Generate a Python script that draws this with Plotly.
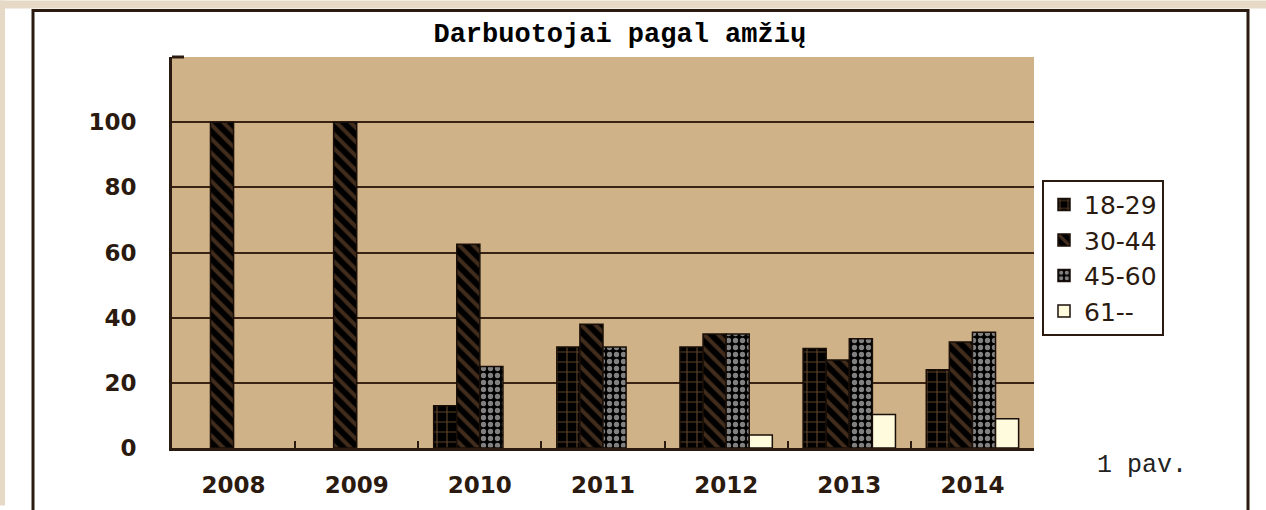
import plotly.graph_objects as go

metai = ["2008", "2009", "2010", "2011", "2012", "2013", "2014"]
grupes = ["18-29", "30-44", "45-60", "61--"]
v_18_29 = [None, None, 13, 31, 31, 30.5, 24]
v_30_44 = [100, 100, 62.5, 38, 35, 27, 32.5]
v_45_60 = [None, None, 25, 31, 35, 33.5, 35.5]
v_61 = [None, None, None, None, 4, 10.3, 9]
y_ticks = [0, 20, 40, 60, 80, 100]

# pikseliai -> paper koordinatės (plotas 172..1034 x 57..452)
W, H = 1266, 510
L, R, T, B = 172, 1034, 57, 452
def px(x):
    return (x - L) / (R - L)
def py(y):
    return (B - y) / (B - T)

ruda = "#2b1a0f"

stiliai = [
    dict(color="black", pattern=dict(shape="+", fgcolor="#b8824f", size=10, solidity=0.22, fillmode="overlay")),
    dict(color="black", pattern=dict(shape="\\", fgcolor="#84593a", size=10, solidity=0.4, fillmode="overlay")),
    dict(color="black", pattern=dict(shape=".", fgcolor="white", size=7, solidity=0.45, fillmode="overlay")),
    dict(color="#fffbdc"),
]
reiksmes = [v_18_29, v_30_44, v_45_60, v_61]

fig = go.Figure()
for g, v, s in zip(grupes, reiksmes, stiliai):
    fig.add_trace(go.Bar(x=metai, y=v, name=g,
                         marker=dict(**s, line=dict(color="#1a0f08", width=1.5))))

fig.update_layout(
    width=W, height=H,
    margin=dict(l=L, r=W - R, t=T, b=H - B),
    paper_bgcolor="white",
    plot_bgcolor="#cfb287",
    barmode="group", bargap=0.25, bargroupgap=0,
    font=dict(family="DejaVu Sans", color=ruda),
    showlegend=True,
    legend=dict(x=px(1042), y=py(181), xanchor="left", yanchor="top",
                bgcolor="white", bordercolor=ruda, borderwidth=2,
                font=dict(family="DejaVu Sans", size=25, color=ruda),
                itemwidth=30, tracegroupgap=0),
    title=dict(text="<b>Darbuotojai pagal amžių</b>", x=px(594), xanchor="center",
               y=1 - 33 / H, yanchor="middle",
               font=dict(family="Liberation Mono", size=27, color="black")),
)
fig.update_xaxes(showline=True, linecolor=ruda, linewidth=3,
                 ticks="inside", tickson="boundaries", ticklen=7, tickwidth=2, tickcolor=ruda,
                 tickfont=dict(family="DejaVu Sans", size=23, color=ruda, weight="bold"),
                 ticklabelstandoff=14)
fig.update_yaxes(range=[0, 120], tickvals=y_ticks, showline=True, linecolor=ruda, linewidth=3,
                 showgrid=True, gridcolor="#3a2214", gridwidth=2, zeroline=False,
                 tickfont=dict(family="DejaVu Sans", size=23, color=ruda, weight="bold"),
                 ticklabelstandoff=28)

shapes = [
    # smėlio spalvos kraštai
    dict(type="rect", xref="paper", yref="paper", x0=px(0), x1=px(W), y0=py(8), y1=py(0),
         fillcolor="#e6dac7", line=dict(width=0), layer="below"),
    dict(type="rect", xref="paper", yref="paper", x0=px(0), x1=px(5), y0=py(H), y1=py(0),
         fillcolor="#e6dac7", line=dict(width=0), layer="below"),
    # rėmelis
    dict(type="rect", xref="paper", yref="paper", x0=px(33), x1=px(1248), y0=py(H + 10), y1=py(10),
         line=dict(color=ruda, width=3)),
    # kampinė žymė
    dict(type="line", xref="paper", yref="paper", x0=0, x1=px(184), y0=1, y1=1,
         line=dict(color=ruda, width=3)),
]
fig.update_layout(shapes=shapes)

fig.add_annotation(text="1 pav.", xref="paper", yref="paper", x=px(1142), y=py(470),
                   xanchor="center", yanchor="middle",
                   showarrow=False, font=dict(family="Liberation Mono", size=25, color="#222"))

fig.write_html("out.html", config={"displayModeBar": False},
               post_script="document.body.style.margin='0';")
